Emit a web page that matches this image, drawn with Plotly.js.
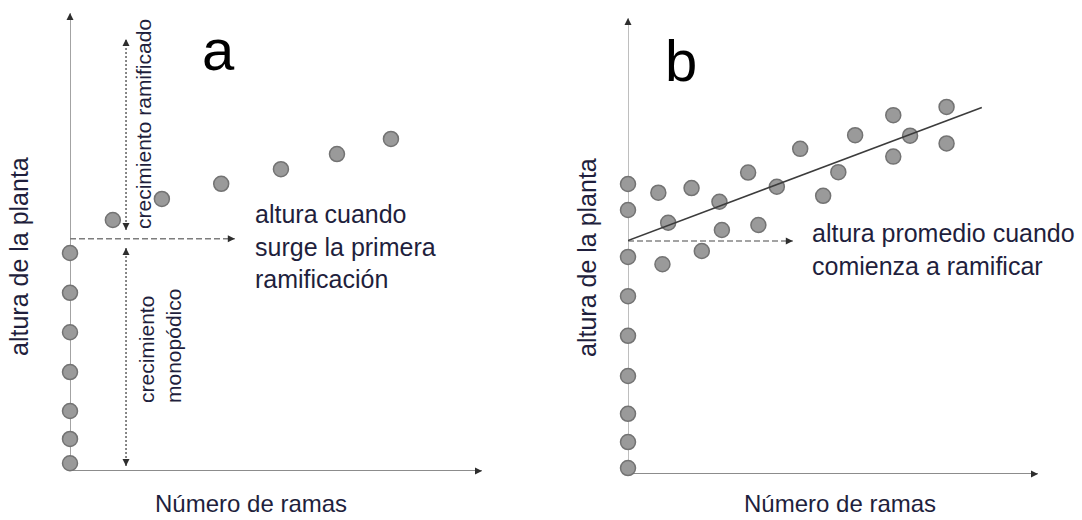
<!DOCTYPE html>
<html>
<head>
<meta charset="utf-8">
<script src="https://cdn.plot.ly/plotly-3.0.1.min.js"></script>
<style>
  html, body { margin: 0; padding: 0; background: #fff; }
  #chart { width: 1082px; height: 520px; }
</style>
</head>
<body>
<div id="chart"></div>
<script>
// Panel a: monopodial growth (stem only) followed by branched growth
const aStemBranches = [0, 0, 0, 0, 0, 0, 0];
const aStemHeight   = [0.17, 0.70, 1.31, 2.16, 3.03, 3.89, 4.76];
const aBranchCount  = [1.04, 2.23, 3.67, 5.12, 6.48, 7.79];
const aBranchHeight = [5.48, 5.94, 6.27, 6.59, 6.92, 7.25];
const aFirstBranchHeight = 5.07;   // height when the first branch appears
const aPhaseDividerX = 1.36;       // where the two growth phases are marked

// Panel b: scattered plants with a fitted trend
const bStemBranches = [0, 0, 0, 0, 0, 0, 0, 0, 0];
const bStemHeight   = [0.13, 0.70, 1.32, 2.15, 3.03, 3.90, 4.76, 5.79, 6.36];
const bBranchCount  = [0.74, 1.55, 0.98, 2.23, 2.29, 2.93, 3.18, 3.63, 1.80, 0.84,
                       4.20, 4.76, 5.13, 5.54, 6.47, 6.88, 6.47, 7.77, 7.77];
const bBranchHeight = [6.17, 6.27, 5.51, 5.97, 5.35, 6.61, 5.46, 6.30, 4.89, 4.60,
                       7.13, 6.10, 6.62, 7.43, 7.87, 7.42, 6.96, 8.05, 7.25];
const bTrendX = [0, 8.63];
const bTrendY = [5.12, 8.04];
const bMeanBranchHeight = 5.11;    // mean height when branching starts

// Texts
const xTitle = 'Número de ramas';
const yTitle = 'altura de la planta';
const panelLabels = ['a', 'b'];
const noteA = 'altura cuando<br>surge la primera<br>ramificación';
const noteB = 'altura promedio cuando<br>comienza a ramificar';
const phaseUpper = 'crecimiento ramificado';
const phaseLower = 'crecimiento<br>monopódico';

const W = 1082, H = 520;
const AXIS_MAX = 10;
const FONT = 'Liberation Sans, Arial, Helvetica, sans-serif';
const INK = '#1f1f3d';

const dot = { size: 15, color: '#9a9a9a', line: { color: '#737373', width: 1.5 } };

function pts(x, y, xa, ya) {
  return { type: 'scatter', mode: 'markers', x: x, y: y, xaxis: xa, yaxis: ya,
           marker: dot, cliponaxis: false, hoverinfo: 'skip', showlegend: false };
}

const traces = [
  pts(aStemBranches, aStemHeight, 'x', 'y'),
  pts(aBranchCount, aBranchHeight, 'x', 'y'),
  pts(bStemBranches, bStemHeight, 'x2', 'y2'),
  pts(bBranchCount, bBranchHeight, 'x2', 'y2'),
  { type: 'scatter', mode: 'lines', x: bTrendX, y: bTrendY, xaxis: 'x2', yaxis: 'y2',
    line: { color: '#3c3c3c', width: 1.6 }, cliponaxis: false, hoverinfo: 'skip', showlegend: false }
];

function seg(xr, yr, x0, y0, x1, y1, color, width, dash) {
  return { type: 'line', xref: xr, yref: yr, x0: x0, y0: y0, x1: x1, y1: y1,
           layer: 'below', line: { color: color, width: width, dash: dash || 'solid' } };
}

const shapes = [
  // panel a axes
  seg('x', 'y', 0, 0, 0, AXIS_MAX, '#a3a3a3', 2),
  seg('x', 'y', 0, 0, AXIS_MAX, 0, '#8c8c8c', 2),
  // panel a reference lines
  seg('x', 'y', 0, aFirstBranchHeight, 4.0, aFirstBranchHeight, '#7d7d7d', 1.5, '6px,3px'),
  seg('x', 'y', aPhaseDividerX, 5.26, aPhaseDividerX, 9.43, '#6a6a6a', 1.6, '2px,2px'),
  seg('x', 'y', aPhaseDividerX, 0.11, aPhaseDividerX, 4.87, '#6a6a6a', 1.6, '2px,2px'),
  // panel b axes
  seg('x2', 'y2', 0, 0, 0, AXIS_MAX, '#a8a8a8', 1.5),
  seg('x2', 'y2', 0, 0, AXIS_MAX, 0, '#8c8c8c', 2),
  // panel b reference line
  seg('x2', 'y2', 0, bMeanBranchHeight, 4.02, bMeanBranchHeight, '#858585', 1.5, '6px,3px')
];

// short solid arrows that only show a head at (x, y)
function head(xr, yr, x, y, dir) {
  const off = { up: [0, 7], down: [0, -7], right: [-7, 0] }[dir];
  return { xref: xr, yref: yr, x: x, y: y, axref: 'pixel', ayref: 'pixel',
           ax: off[0], ay: off[1], text: '', showarrow: true,
           arrowhead: 2, arrowsize: 1, arrowwidth: 1.4, arrowcolor: '#2e2e2e' };
}

function at(px, py) { return { xref: 'paper', yref: 'paper', x: px / W, y: 1 - py / H }; }

function label(px, py, text, size, opts) {
  return Object.assign(at(px, py), {
    text: text, showarrow: false, xanchor: 'center', yanchor: 'middle',
    font: { family: FONT, size: size, color: INK }
  }, opts || {});
}

const annotations = [
  head('x', 'y', 0, AXIS_MAX, 'up'),
  head('x', 'y', AXIS_MAX, 0, 'right'),
  head('x', 'y', 4.0, aFirstBranchHeight, 'right'),
  head('x', 'y', aPhaseDividerX, 9.43, 'up'),
  head('x', 'y', aPhaseDividerX, 5.26, 'down'),
  head('x', 'y', aPhaseDividerX, 4.87, 'up'),
  head('x', 'y', aPhaseDividerX, 0.11, 'down'),
  head('x2', 'y2', 0, AXIS_MAX, 'up'),
  head('x2', 'y2', AXIS_MAX, 0, 'right'),
  head('x2', 'y2', 4.02, bMeanBranchHeight, 'right'),

  label(218, 50, panelLabels[0], 58, { font: { family: FONT, size: 58, color: '#000' } }),
  label(681, 60, panelLabels[1], 58, { font: { family: FONT, size: 58, color: '#000' } }),

  label(253, 246, noteA, 25, { xanchor: 'left', align: 'left' }),
  label(810, 249, noteB, 25, { xanchor: 'left', align: 'left' }),

  label(19, 257, yTitle, 25, { textangle: -90 }),
  label(587, 258, yTitle, 25, { textangle: -90 }),
  label(251, 503, xTitle, 24, { borderpad: 0 }),
  label(840, 503, xTitle, 24, { borderpad: 0 }),

  label(143, 124, phaseUpper, 21, { textangle: -90 }),
  label(160, 346, phaseLower, 21, { textangle: -90, align: 'left' })
];

function hidden(domain) {
  return { domain: domain, range: [0, AXIS_MAX], visible: false, fixedrange: true };
}

const layout = {
  width: W, height: H,
  margin: { l: 0, r: 0, t: 0, b: 0 },
  paper_bgcolor: '#ffffff', plot_bgcolor: '#ffffff',
  showlegend: false,
  xaxis:  hidden([70 / W, 482 / W]),
  yaxis:  hidden([1 - 471 / H, 1 - 13 / H]),
  xaxis2: Object.assign(hidden([628 / W, 1038 / W]), { anchor: 'y2' }),
  yaxis2: Object.assign(hidden([1 - 474 / H, 1 - 18 / H]), { anchor: 'x2' }),
  shapes: shapes,
  annotations: annotations
};

Plotly.newPlot('chart', traces, layout, { staticPlot: true, displayModeBar: false });
</script>
</body>
</html>
